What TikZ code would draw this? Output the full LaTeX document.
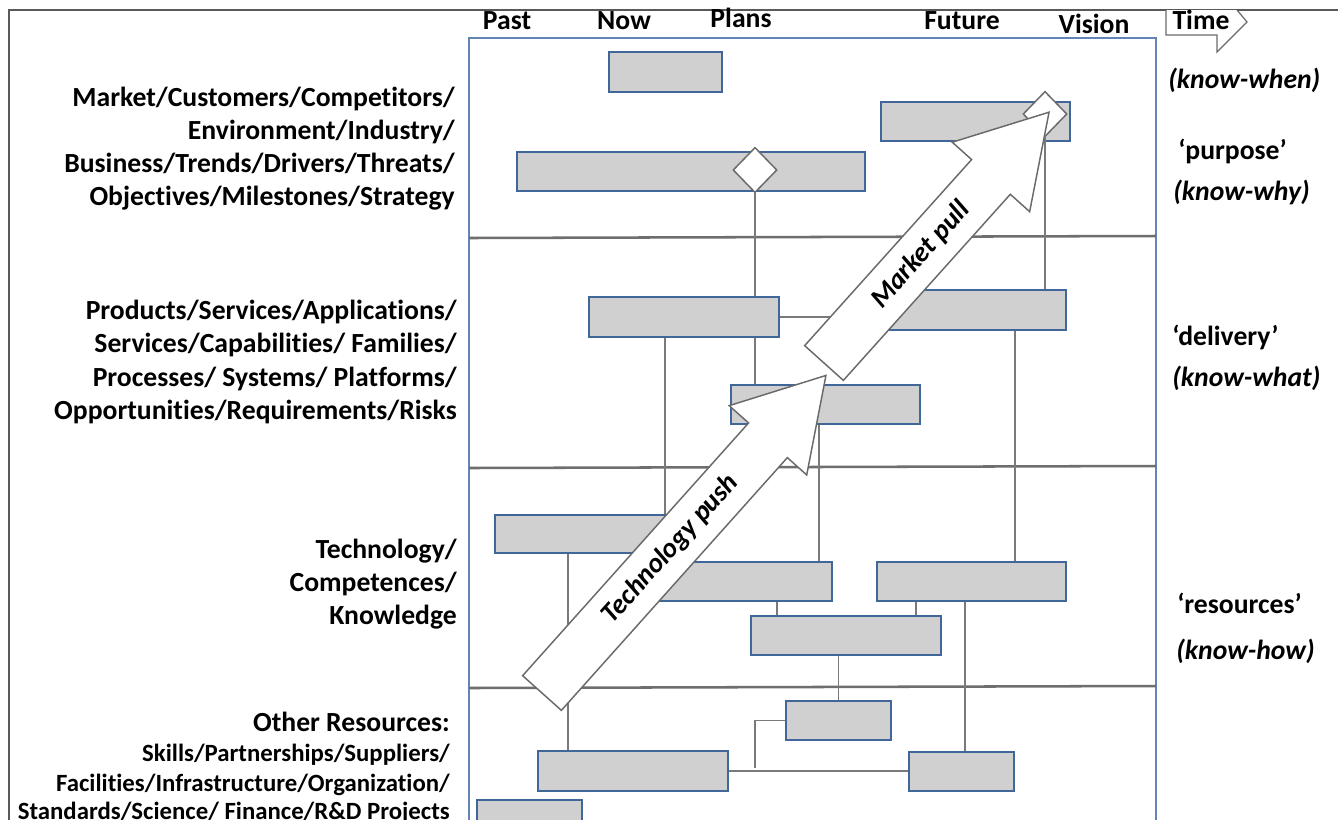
\documentclass[tikz,border=0pt]{standalone}
\usepackage{fontspec}
\setmainfont{Carlito}[Ligatures={TeX,NoCommon}]
\usetikzlibrary{shapes.geometric,calc}
\definecolor{boxfill}{HTML}{D0D0D0}
\definecolor{boxline}{HTML}{41669A}
\definecolor{frameblue}{HTML}{6385B5}
\definecolor{divgray}{HTML}{6E6E6E}
\definecolor{conngray}{HTML}{7A7A7A}
\definecolor{arrgray}{HTML}{6A6A6A}
\definecolor{outgray}{HTML}{595959}
\newcommand{\rbox}[5]{\node[box, minimum width={(#4-#2)*0.75pt}, minimum height={(#5-#3)*0.75pt}] (#1) at ({(#2+#4)/2},{(#3+#5)/2}) {};}
\begin{document}
\begin{tikzpicture}[x=0.75pt,y=-0.75pt,
  box/.style={rectangle, draw=boxline, fill=boxfill, line width=1.1pt, inner sep=0pt},
  dmd/.style={diamond, draw=arrgray, fill=white, line width=1.1pt, inner sep=0pt, minimum width=33pt, minimum height=34pt},
  conn/.style={draw=conngray, line width=1pt},
  divline/.style={draw=divgray, line width=1.9pt},
  bigarrow/.style={draw=arrgray, fill=white, line width=1.1pt, line join=miter},
  lbl/.style={font=\fontsize{20.75}{24}\selectfont\bfseries, inner sep=0pt},
  lblsm/.style={font=\fontsize{18.6}{22}\selectfont\bfseries, inner sep=0pt},
  ital/.style={font=\fontsize{20.75}{24}\selectfont\bfseries\itshape, inner sep=0pt}]
\clip (0,0) rectangle (1338,819);
\fill[white] (0,0) rectangle (1338,819);
% outer frame
\draw[outgray, line width=0.8pt] (9,840) -- (9,10) -- (1345,10);
% main grid frame
\draw[frameblue, line width=1.1pt] (469,840) -- (469,38) -- (1156,38) -- (1156,840);
% dividers
\draw[divline] (469,238) -- (1156,236);
\draw[divline] (469,468) -- (1156,466);
\draw[divline] (469,688) -- (1156,686);
% time arrow
\draw[arrgray, line width=0.9pt, fill=white, line join=miter] (1166,10) -- (1166,35) -- (1217,35) -- (1217,52) -- (1247,22) -- (1237,10);
% headers
\node[lbl, anchor=base] (hpast) at (507,29) {Past};
\node[lbl, anchor=base] (hnow) at (624,29) {Now};
\node[lbl, anchor=base] (hplans) at (741,27) {Plans};
\node[lbl, anchor=base] (hfuture) at (962,29) {Future};
\node[lbl, anchor=base] (hvision) at (1094,33) {Vision};
\node[lbl, anchor=base] (htime) at (1201,29) {Time};
% left labels
\node[lbl, anchor=base east] (l11) at (455,106) {Market/Customers/Competitors/};
\node[lbl, anchor=base east] (l12) at (455,139) {Environment/Industry/};
\node[lbl, anchor=base east] (l13) at (455,172) {Business/Trends/Drivers/Threats/};
\node[lbl, anchor=base east] (l14) at (455,205) {Objectives/Milestones/Strategy};
\node[lbl, anchor=base east] (l21) at (457,319) {Products/Services/Applications/};
\node[lbl, anchor=base east] (l22) at (457,352) {Services/Capabilities/ Families/};
\node[lbl, anchor=base east] (l23) at (457,386) {Processes/ Systems/ Platforms/};
\node[lbl, anchor=base east] (l24) at (457,419) {Opportunities/Requirements/Risks};
\node[lbl, anchor=base east] (l31) at (457,558) {Technology/};
\node[lbl, anchor=base east] (l32) at (457,591) {Competences/};
\node[lbl, anchor=base east] (l33) at (457,624) {Knowledge};
\node[lbl, anchor=base east] (l41) at (450,731) {Other Resources:};
\node[lblsm, anchor=base east] (l42) at (450,761) {Skills/Partnerships/Suppliers/};
\node[lblsm, anchor=base east] (l43) at (450,791) {Facilities/Infrastructure/Organization/};
\node[lblsm, anchor=base east] (l44) at (450,819) {Standards/Science/ Finance/R\&D Projects};
% right labels
\node[ital, anchor=base west] (r1) at (1168,88) {(know-when)};
\node[lbl, anchor=base west] (r2) at (1178,159) {‘purpose’};
\node[ital, anchor=base west] (r3) at (1173,200) {(know-why)};
\node[lbl, anchor=base west] (r4) at (1172,345) {‘delivery’};
\node[ital, anchor=base west] (r5) at (1172,386) {(know-what)};
\node[lbl, anchor=base west] (r6) at (1177,613) {‘resources’};
\node[ital, anchor=base west] (r7) at (1176,659) {(know-how)};
% boxes
\rbox{A1}{609}{52}{722}{92}
\rbox{A2}{881}{102}{1070}{141}
\rbox{A3}{517}{152}{865}{191}
\rbox{B1}{589}{297}{779}{337}
\rbox{B2}{877}{290}{1066}{330}
\rbox{B3}{731}{385}{920}{424}
\rbox{C1}{495}{515}{684}{553}
\rbox{C2}{643}{562}{832}{601}
\rbox{C3}{877}{562}{1066}{601}
\rbox{C4}{751}{616}{941}{655}
\rbox{D1}{786}{701}{891}{740}
\rbox{D2}{538}{751}{728}{791}
\rbox{D3}{909}{752}{1014}{791}
\rbox{D4}{477}{800}{582}{840}
% diamonds
\node[dmd] (dA3) at (755,170) {};
\node[dmd] (dA2) at (1045,114) {};
% column coordinates for connectors
\coordinate (x568) at (568,0);
\coordinate (x665) at (665,0);
\coordinate (x777) at (777,0);
\coordinate (x819) at (819,0);
\coordinate (x916) at (916,0);
\coordinate (x965) at (965,0);
\coordinate (x1015) at (1015,0);
\coordinate (j1) at (755,768);
% connectors
\draw[conn] (dA3.south) -- (dA3 |- B1.north);
\draw[conn] (B1.south -| dA3) -- (B3.north -| dA3);
\draw[conn] (B1.east) -- (B1.east -| B2.west);
\draw[conn] (dA2.south) -- (dA2 |- B2.north);
\draw[conn] (B1.south -| x665) -- (C1.north -| x665);
\draw[conn] (B3.south -| x819) -- (C2.north -| x819);
\draw[conn] (B2.south -| x1015) -- (C3.north -| x1015);
\draw[conn] (C1.south -| x568) -- (D2.north -| x568);
\draw[conn] (C2.south -| x777) -- (C4.north -| x777);
\draw[conn] (C3.south -| x916) -- (C4.north -| x916);
\draw[conn] (C3.south -| x965) -- (D3.north -| x965);
\draw[conn] (C4.south -| D1.north) -- (D1.north);
\draw[conn] (D2.east) -- (D2.east -| D3.west);
\draw[conn] (D1.west) -- (D1.west -| j1) -- (j1);
% big arrows
\begin{scope}[shift={(542,693)}, rotate=48.2]
\draw[bigarrow] (0,-26) -- (339,-26) -- (339,-52) -- (426,0) -- (339,52) -- (339,26) -- (0,26) -- cycle;
\node[ital, rotate=48.2] (tpush) at (193,0) {Technology push};
\end{scope}
\begin{scope}[shift={(824,363)}, rotate=48.1]
\draw[bigarrow] (0,-26) -- (250,-26) -- (250,-52) -- (337,0) -- (250,52) -- (250,26) -- (0,26) -- cycle;
\node[ital, rotate=48.1] (mpull) at (145,0) {Market pull};
\end{scope}
\end{tikzpicture}
\end{document}
